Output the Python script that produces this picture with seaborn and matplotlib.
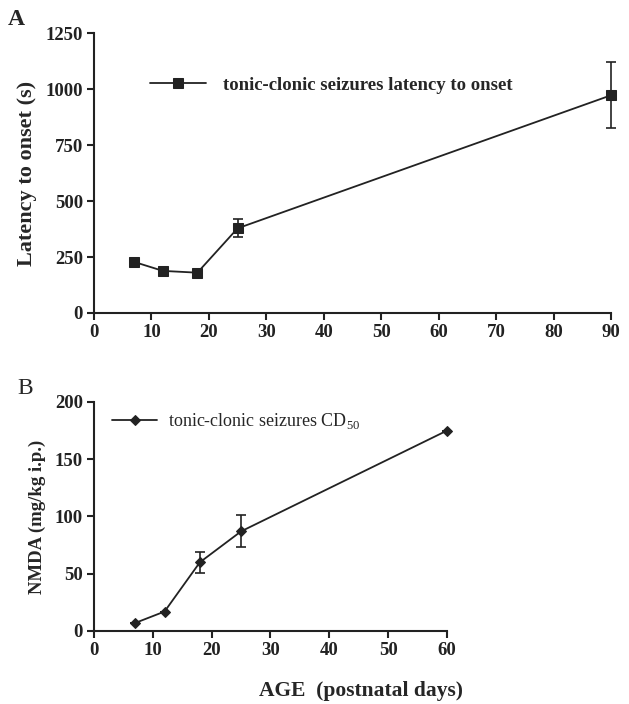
import matplotlib
matplotlib.use("Agg")
import matplotlib.pyplot as plt
import seaborn as sns
import pandas as pd

# Panel A: latency to onset of tonic-clonic seizures
age_a = [7, 12, 18, 25, 90]
latency = [228, 188, 180, 378, 972]
latency_err = [14, 8, 8, 40, 147]

# Panel B: NMDA CD50
age_b = [7, 12, 18, 25, 60]
cd50 = [7, 17, 60, 87, 175]
cd50_err = [0, 0, 9, 14, 0]

label_a = "tonic-clonic seizures latency to onset"
label_b = "tonic-clonic seizures CD$_{50}$"

sns.set_style("ticks")
plt.rcParams["font.family"] = ["Liberation Serif", "DejaVu Serif"]
plt.rcParams["mathtext.fontset"] = "custom"
plt.rcParams["mathtext.rm"] = "Liberation Serif"

ink = "#222222"

fig = plt.figure(figsize=(6.29, 7.04), dpi=100)
ax1 = fig.add_axes([0.1494, 0.5554, 0.822, 0.3977])
ax2 = fig.add_axes([0.1494, 0.1037, 0.5612, 0.3253])

df_a = pd.DataFrame({"age": age_a, "val": latency})
df_b = pd.DataFrame({"age": age_b, "val": cd50})

sns.lineplot(data=df_a, x="age", y="val", ax=ax1, color=ink, marker="s",
             markersize=7, markeredgecolor=ink, linewidth=1.3, label=label_a,
             clip_on=False, zorder=3)
ax1.errorbar(age_a, latency, yerr=latency_err, fmt="none", ecolor=ink,
             elinewidth=1.2, capsize=3.5, capthick=1.2, clip_on=False)

sns.lineplot(data=df_b, x="age", y="val", ax=ax2, color=ink, marker="D",
             markersize=5, markeredgecolor=ink, linewidth=1.3, label=label_b,
             clip_on=False, zorder=3)
ax2.errorbar(age_b, cd50, yerr=cd50_err, fmt="none", ecolor=ink,
             elinewidth=1.2, capsize=3.5, capthick=1.2, clip_on=False)

ax1.set_xlim(0, 90)
ax1.set_ylim(0, 1250)
ax1.set_xticks(range(0, 91, 10))
ax1.set_yticks(range(0, 1251, 250))
ax1.set_ylabel("Latency to onset (s)", fontsize=16, fontweight="bold", labelpad=6)

ax2.set_xlim(0, 60)
ax2.set_ylim(0, 200)
ax2.set_xticks(range(0, 61, 10))
ax2.set_yticks(range(0, 201, 50))
ax2.set_ylabel("NMDA (mg/kg i.p.)", fontsize=13.5, fontweight="bold", labelpad=6)

for ax in (ax1, ax2):
    sns.despine(ax=ax)
    for s in ("left", "bottom"):
        ax.spines[s].set_linewidth(1.5)
        ax.spines[s].set_color(ink)
    ax.tick_params(width=1.5, length=5, labelsize=13.5, colors=ink, pad=3)
    for t in ax.get_xticklabels() + ax.get_yticklabels():
        t.set_fontweight("bold")
    ax.set_xlabel("")

ax1.legend(loc="center left", bbox_to_anchor=(0.108, 0.814), frameon=False,
           borderpad=0, borderaxespad=0, handlelength=3.0, handletextpad=0.9,
           prop={"size": 13.5, "weight": "bold"})
ax2.legend(loc="center left", bbox_to_anchor=(0.051, 0.917), frameon=False,
           borderpad=0, borderaxespad=0, handlelength=2.5, handletextpad=0.6,
           prop={"size": 13})

fig.text(0.013, 0.965, "A", fontsize=17, fontweight="bold")
fig.text(0.028, 0.44, "B", fontsize=17)
fig.text(0.574, 0.012, "AGE  (postnatal days)", fontsize=15.5, fontweight="bold",
         ha="center")

fig.savefig("out.png", dpi=100)
